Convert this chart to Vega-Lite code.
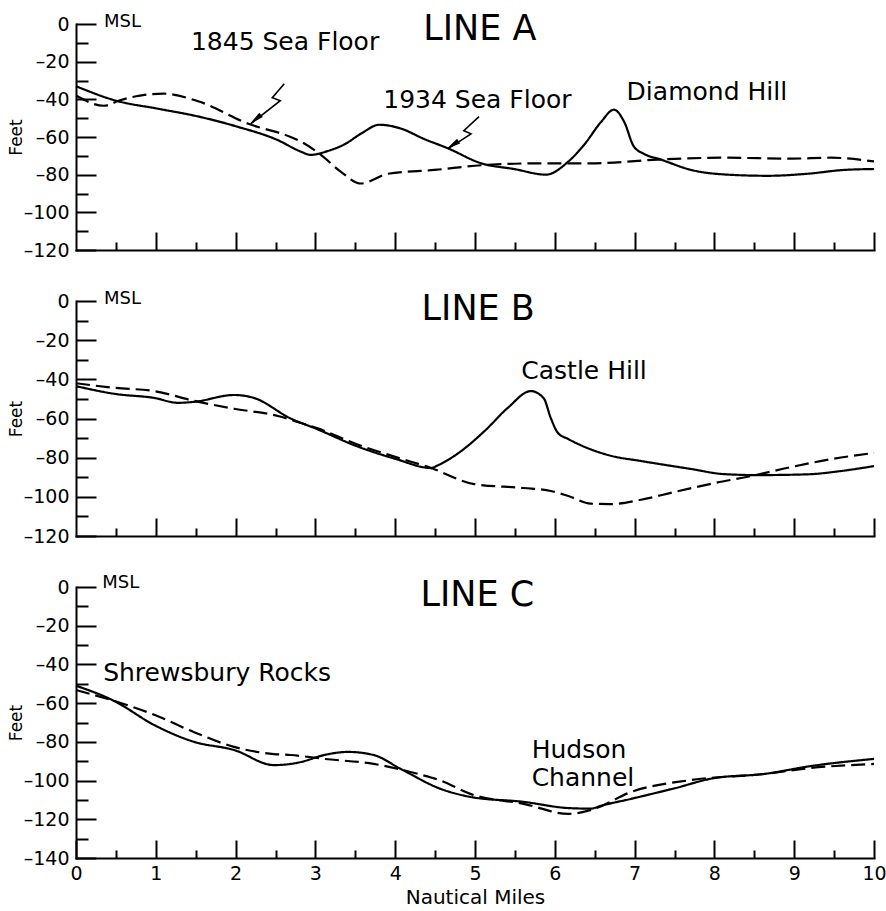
{
 "$schema": "https://vega.github.io/schema/vega-lite/v6.json",
 "background": "white",
 "padding": {"left": 7, "top": 12, "right": 5, "bottom": 2},
 "bounds": "flush",
 "spacing": 51,
 "config": {
  "font": "DejaVu Sans",
  "view": {"stroke": null},
  "axis": {"grid": false, "domainColor": "black", "domainWidth": 2, "domainCap": "square", "tickColor": "black", "tickWidth": 2, "labelColor": "black", "titleColor": "black", "labelFont": "DejaVu Sans", "labelFontSize": 19, "titleFont": "DejaVu Sans", "titleFontWeight": "normal", "labelFlush": false, "labelOverlap": false},
  "text": {"font": "DejaVu Sans", "color": "black"}
 },
 "datasets": {
  "prof": [
   {"panel":"A","survey":"1934","mi":0,"ft":-33},
   {"panel":"A","survey":"1934","mi":0.5,"ft":-40.7},
   {"panel":"A","survey":"1934","mi":1.03,"ft":-45},
   {"panel":"A","survey":"1934","mi":1.52,"ft":-49},
   {"panel":"A","survey":"1934","mi":2.02,"ft":-54.5},
   {"panel":"A","survey":"1934","mi":2.52,"ft":-61.5},
   {"panel":"A","survey":"1934","mi":2.82,"ft":-67.8},
   {"panel":"A","survey":"1934","mi":2.94,"ft":-69.5},
   {"panel":"A","survey":"1934","mi":3.15,"ft":-67.5},
   {"panel":"A","survey":"1934","mi":3.36,"ft":-64},
   {"panel":"A","survey":"1934","mi":3.58,"ft":-58},
   {"panel":"A","survey":"1934","mi":3.8,"ft":-53.5},
   {"panel":"A","survey":"1934","mi":4.07,"ft":-55.5},
   {"panel":"A","survey":"1934","mi":4.36,"ft":-61},
   {"panel":"A","survey":"1934","mi":4.66,"ft":-66},
   {"panel":"A","survey":"1934","mi":5.08,"ft":-74},
   {"panel":"A","survey":"1934","mi":5.49,"ft":-77},
   {"panel":"A","survey":"1934","mi":5.89,"ft":-80},
   {"panel":"A","survey":"1934","mi":6.17,"ft":-73},
   {"panel":"A","survey":"1934","mi":6.37,"ft":-64},
   {"panel":"A","survey":"1934","mi":6.58,"ft":-52},
   {"panel":"A","survey":"1934","mi":6.74,"ft":-45.5},
   {"panel":"A","survey":"1934","mi":6.87,"ft":-52},
   {"panel":"A","survey":"1934","mi":6.99,"ft":-65},
   {"panel":"A","survey":"1934","mi":7.12,"ft":-69},
   {"panel":"A","survey":"1934","mi":7.33,"ft":-72},
   {"panel":"A","survey":"1934","mi":7.71,"ft":-77.5},
   {"panel":"A","survey":"1934","mi":8.17,"ft":-80},
   {"panel":"A","survey":"1934","mi":8.67,"ft":-80.6},
   {"panel":"A","survey":"1934","mi":9.17,"ft":-79.5},
   {"panel":"A","survey":"1934","mi":9.62,"ft":-77.5},
   {"panel":"A","survey":"1934","mi":10,"ft":-77},
   {"panel":"A","survey":"1845","mi":0,"ft":-38},
   {"panel":"A","survey":"1845","mi":0.35,"ft":-43.4},
   {"panel":"A","survey":"1845","mi":0.55,"ft":-40.5},
   {"panel":"A","survey":"1845","mi":0.8,"ft":-38},
   {"panel":"A","survey":"1845","mi":1.1,"ft":-37},
   {"panel":"A","survey":"1845","mi":1.53,"ft":-41},
   {"panel":"A","survey":"1845","mi":2.16,"ft":-53},
   {"panel":"A","survey":"1845","mi":2.69,"ft":-60},
   {"panel":"A","survey":"1845","mi":2.82,"ft":-62.5},
   {"panel":"A","survey":"1845","mi":3.07,"ft":-69.5},
   {"panel":"A","survey":"1845","mi":3.32,"ft":-78.5},
   {"panel":"A","survey":"1845","mi":3.57,"ft":-84.7},
   {"panel":"A","survey":"1845","mi":3.91,"ft":-79.5},
   {"panel":"A","survey":"1845","mi":4.49,"ft":-77.5},
   {"panel":"A","survey":"1845","mi":5.08,"ft":-75},
   {"panel":"A","survey":"1845","mi":5.74,"ft":-74},
   {"panel":"A","survey":"1845","mi":6.45,"ft":-74},
   {"panel":"A","survey":"1845","mi":7.29,"ft":-72},
   {"panel":"A","survey":"1845","mi":8.12,"ft":-71},
   {"panel":"A","survey":"1845","mi":8.96,"ft":-71.5},
   {"panel":"A","survey":"1845","mi":9.46,"ft":-71},
   {"panel":"A","survey":"1845","mi":10,"ft":-73},
   {"panel":"B","survey":"1934","mi":0,"ft":-43.5},
   {"panel":"B","survey":"1934","mi":0.5,"ft":-47.5},
   {"panel":"B","survey":"1934","mi":0.98,"ft":-49.5},
   {"panel":"B","survey":"1934","mi":1.28,"ft":-52},
   {"panel":"B","survey":"1934","mi":1.48,"ft":-51.5},
   {"panel":"B","survey":"1934","mi":1.98,"ft":-48},
   {"panel":"B","survey":"1934","mi":2.23,"ft":-49.5},
   {"panel":"B","survey":"1934","mi":2.69,"ft":-60},
   {"panel":"B","survey":"1934","mi":3.02,"ft":-65.4},
   {"panel":"B","survey":"1934","mi":3.51,"ft":-74},
   {"panel":"B","survey":"1934","mi":4.01,"ft":-80.7},
   {"panel":"B","survey":"1934","mi":4.45,"ft":-85.3},
   {"panel":"B","survey":"1934","mi":4.53,"ft":-84},
   {"panel":"B","survey":"1934","mi":4.78,"ft":-78},
   {"panel":"B","survey":"1934","mi":5.12,"ft":-66.4},
   {"panel":"B","survey":"1934","mi":5.41,"ft":-54.6},
   {"panel":"B","survey":"1934","mi":5.7,"ft":-46},
   {"panel":"B","survey":"1934","mi":5.86,"ft":-49.6},
   {"panel":"B","survey":"1934","mi":5.95,"ft":-59.8},
   {"panel":"B","survey":"1934","mi":6.04,"ft":-67.4},
   {"panel":"B","survey":"1934","mi":6.17,"ft":-70.5},
   {"panel":"B","survey":"1934","mi":6.7,"ft":-79},
   {"panel":"B","survey":"1934","mi":7.08,"ft":-81.7},
   {"panel":"B","survey":"1934","mi":7.71,"ft":-85.8},
   {"panel":"B","survey":"1934","mi":8.12,"ft":-88.4},
   {"panel":"B","survey":"1934","mi":8.55,"ft":-88.9},
   {"panel":"B","survey":"1934","mi":9.17,"ft":-88.5},
   {"panel":"B","survey":"1934","mi":9.59,"ft":-86.8},
   {"panel":"B","survey":"1934","mi":10,"ft":-84.3},
   {"panel":"B","survey":"1845","mi":0,"ft":-42},
   {"panel":"B","survey":"1845","mi":0.5,"ft":-44.4},
   {"panel":"B","survey":"1845","mi":0.98,"ft":-46},
   {"panel":"B","survey":"1845","mi":1.48,"ft":-51},
   {"panel":"B","survey":"1845","mi":1.98,"ft":-55},
   {"panel":"B","survey":"1845","mi":2.53,"ft":-58.7},
   {"panel":"B","survey":"1845","mi":2.82,"ft":-62.3},
   {"panel":"B","survey":"1845","mi":3.02,"ft":-64.9},
   {"panel":"B","survey":"1845","mi":3.51,"ft":-73},
   {"panel":"B","survey":"1845","mi":4.01,"ft":-79.7},
   {"panel":"B","survey":"1845","mi":4.45,"ft":-85.3},
   {"panel":"B","survey":"1845","mi":4.99,"ft":-93.5},
   {"panel":"B","survey":"1845","mi":5.61,"ft":-95.5},
   {"panel":"B","survey":"1845","mi":5.95,"ft":-97},
   {"panel":"B","survey":"1845","mi":6.17,"ft":-99.6},
   {"panel":"B","survey":"1845","mi":6.45,"ft":-103.5},
   {"panel":"B","survey":"1845","mi":6.7,"ft":-103.7},
   {"panel":"B","survey":"1845","mi":7.08,"ft":-101.5},
   {"panel":"B","survey":"1845","mi":7.5,"ft":-97.5},
   {"panel":"B","survey":"1845","mi":8.0,"ft":-93},
   {"panel":"B","survey":"1845","mi":8.46,"ft":-89.4},
   {"panel":"B","survey":"1845","mi":8.96,"ft":-84.8},
   {"panel":"B","survey":"1845","mi":9.46,"ft":-80.8},
   {"panel":"B","survey":"1845","mi":10,"ft":-77.6},
   {"panel":"C","survey":"1934","mi":0,"ft":-51},
   {"panel":"C","survey":"1934","mi":0.48,"ft":-58.9},
   {"panel":"C","survey":"1934","mi":0.98,"ft":-71.3},
   {"panel":"C","survey":"1934","mi":1.48,"ft":-80},
   {"panel":"C","survey":"1934","mi":1.98,"ft":-84.2},
   {"panel":"C","survey":"1934","mi":2.48,"ft":-92},
   {"panel":"C","survey":"1934","mi":2.69,"ft":-91.4},
   {"panel":"C","survey":"1934","mi":2.82,"ft":-90.4},
   {"panel":"C","survey":"1934","mi":3.11,"ft":-86.8},
   {"panel":"C","survey":"1934","mi":3.41,"ft":-85.2},
   {"panel":"C","survey":"1934","mi":3.73,"ft":-86.8},
   {"panel":"C","survey":"1934","mi":4.07,"ft":-94},
   {"panel":"C","survey":"1934","mi":4.57,"ft":-104.3},
   {"panel":"C","survey":"1934","mi":4.95,"ft":-108.5},
   {"panel":"C","survey":"1934","mi":5.61,"ft":-111},
   {"panel":"C","survey":"1934","mi":6.17,"ft":-114.2},
   {"panel":"C","survey":"1934","mi":6.45,"ft":-114.5},
   {"panel":"C","survey":"1934","mi":6.58,"ft":-113},
   {"panel":"C","survey":"1934","mi":6.95,"ft":-109.5},
   {"panel":"C","survey":"1934","mi":7.5,"ft":-104},
   {"panel":"C","survey":"1934","mi":8.0,"ft":-98.7},
   {"panel":"C","survey":"1934","mi":8.62,"ft":-96.6},
   {"panel":"C","survey":"1934","mi":9.21,"ft":-92.5},
   {"panel":"C","survey":"1934","mi":10,"ft":-88.8},
   {"panel":"C","survey":"1845","mi":0,"ft":-53.2},
   {"panel":"C","survey":"1845","mi":0.31,"ft":-56.8},
   {"panel":"C","survey":"1845","mi":0.48,"ft":-58.9},
   {"panel":"C","survey":"1845","mi":0.98,"ft":-66},
   {"panel":"C","survey":"1845","mi":1.48,"ft":-75},
   {"panel":"C","survey":"1845","mi":1.98,"ft":-82.6},
   {"panel":"C","survey":"1845","mi":2.48,"ft":-86.3},
   {"panel":"C","survey":"1845","mi":2.69,"ft":-86.8},
   {"panel":"C","survey":"1845","mi":3.11,"ft":-88.8},
   {"panel":"C","survey":"1845","mi":3.73,"ft":-91.4},
   {"panel":"C","survey":"1845","mi":4.29,"ft":-96.6},
   {"panel":"C","survey":"1845","mi":4.57,"ft":-100},
   {"panel":"C","survey":"1845","mi":4.95,"ft":-107},
   {"panel":"C","survey":"1845","mi":5.61,"ft":-112},
   {"panel":"C","survey":"1845","mi":6.17,"ft":-117.2},
   {"panel":"C","survey":"1845","mi":6.49,"ft":-114.7},
   {"panel":"C","survey":"1845","mi":6.95,"ft":-106},
   {"panel":"C","survey":"1845","mi":7.71,"ft":-99.7},
   {"panel":"C","survey":"1845","mi":8.62,"ft":-96.6},
   {"panel":"C","survey":"1845","mi":9.21,"ft":-93.5},
   {"panel":"C","survey":"1845","mi":10,"ft":-91.4}
  ],
  "notes": [
   {"panel":"A","kind":"title","mi":5.06,"ft":-2.9,"label":"LINE A"},
   {"panel":"B","kind":"title","mi":5.04,"ft":-4.1,"label":"LINE B"},
   {"panel":"C","kind":"title","mi":5.03,"ft":-4.1,"label":"LINE C"},
   {"panel":"A","kind":"msl","mi":0.35,"ft":1,"label":"MSL"},
   {"panel":"B","kind":"msl","mi":0.35,"ft":1,"label":"MSL"},
   {"panel":"C","kind":"msl","mi":0.33,"ft":2,"label":"MSL"},
   {"panel":"A","kind":"note","mi":1.44,"ft":-9.3,"label":"1845 Sea Floor"},
   {"panel":"A","kind":"note","mi":3.85,"ft":-40.2,"label":"1934 Sea Floor"},
   {"panel":"A","kind":"note","mi":6.9,"ft":-35.9,"label":"Diamond Hill"},
   {"panel":"B","kind":"note","mi":5.58,"ft":-35.8,"label":"Castle Hill"},
   {"panel":"C","kind":"note","mi":0.34,"ft":-44.4,"label":"Shrewsbury Rocks"},
   {"panel":"C","kind":"note","mi":5.71,"ft":-84,"label":"Hudson"},
   {"panel":"C","kind":"note","mi":5.71,"ft":-98.6,"label":"Channel"}
  ],
  "arrows": [
   {"arrow":"1845","ord":1,"mi":2.61,"ft":-31.7},
   {"arrow":"1845","ord":2,"mi":2.46,"ft":-39.1},
   {"arrow":"1845","ord":3,"mi":2.56,"ft":-40.7},
   {"arrow":"1845","ord":4,"mi":2.19,"ft":-53},
   {"arrow":"1934","ord":1,"mi":5.05,"ft":-49.2},
   {"arrow":"1934","ord":2,"mi":4.86,"ft":-56.7},
   {"arrow":"1934","ord":3,"mi":4.95,"ft":-58.3},
   {"arrow":"1934","ord":4,"mi":4.66,"ft":-66.3}
  ],
  "heads": [
   {"arrow":"1845","mi":2.25,"ft":-50.6},
   {"arrow":"1934","mi":4.72,"ft":-64.2}
  ]
 },
 "vconcat": [
  {
   "width": 798, "height": 226,
   "layer": [
    {
     "data": {"name": "prof"},
     "transform": [{"filter": "datum.panel === 'A'"}],
     "mark": {"type": "line", "interpolate": "monotone", "color": "black", "strokeWidth": 2.2},
     "encoding": {
      "x": {"field": "mi", "type": "quantitative", "scale": {"domain": [0, 10], "nice": false}, "axis": {"orient": "bottom", "values": [1,2,3,4,5,6,7,8,9,10], "tickSize": -18, "labels": false, "title": null}},
      "y": {"field": "ft", "type": "quantitative", "scale": {"domain": [-120, 0], "nice": false}, "axis": {"orient": "left", "values": [0,-20,-40,-60,-80,-100,-120], "tickSize": -20, "labelPadding": 27, "title": "Feet", "titleFontSize": 17, "titlePadding": -2, "labelExpr": "datum.value < 0 ? '–' + abs(datum.value) : datum.label"}},
      "strokeDash": {"field": "survey", "type": "nominal", "scale": {"domain": ["1934", "1845"], "range": [[1, 0], [14, 6]]}, "legend": null}
     }
    },
    {
     "data": {"name": "notes"},
     "transform": [{"filter": "datum.panel === 'A' && datum.kind === 'note'"}],
     "mark": {"type": "text", "align": "left", "baseline": "middle", "fontSize": 25},
     "encoding": {
      "x": {"field": "mi", "type": "quantitative", "scale": {"domain": [0, 10], "nice": false}, "axis": {"orient": "bottom", "values": [0.5,1.5,2.5,3.5,4.5,5.5,6.5,7.5,8.5,9.5], "tickSize": -8, "labels": false, "domain": false, "title": null}},
      "y": {"field": "ft", "type": "quantitative", "scale": {"domain": [-120, 0], "nice": false}, "axis": {"orient": "left", "values": [-10,-30,-50,-70,-90,-110], "tickSize": -12, "labels": false, "domain": false, "title": null}},
      "text": {"field": "label"}
     }
    },
    {
     "data": {"name": "notes"},
     "transform": [{"filter": "datum.panel === 'A' && datum.kind === 'title'"}],
     "mark": {"type": "text", "align": "center", "baseline": "middle", "fontSize": 35},
     "encoding": {
      "x": {"field": "mi", "type": "quantitative", "scale": {"domain": [0, 10], "nice": false}, "axis": null},
      "y": {"field": "ft", "type": "quantitative", "scale": {"domain": [-120, 0], "nice": false}, "axis": null},
      "text": {"field": "label"}
     }
    },
    {
     "data": {"name": "notes"},
     "transform": [{"filter": "datum.panel === 'A' && datum.kind === 'msl'"}],
     "mark": {"type": "text", "align": "left", "baseline": "middle", "fontSize": 18},
     "encoding": {
      "x": {"field": "mi", "type": "quantitative", "scale": {"domain": [0, 10], "nice": false}, "axis": null},
      "y": {"field": "ft", "type": "quantitative", "scale": {"domain": [-120, 0], "nice": false}, "axis": null},
      "text": {"field": "label"}
     }
    },
    {
     "data": {"name": "arrows"},
     "mark": {"type": "line", "color": "black", "strokeWidth": 1.6},
     "encoding": {
      "x": {"field": "mi", "type": "quantitative", "scale": {"domain": [0, 10], "nice": false}, "axis": null},
      "y": {"field": "ft", "type": "quantitative", "scale": {"domain": [-120, 0], "nice": false}, "axis": null},
      "detail": {"field": "arrow"},
      "order": {"field": "ord"}
     }
    },
    {
     "data": {"name": "heads"},
     "transform": [{"filter": "datum.arrow === '1845'"}],
     "mark": {"type": "point", "shape": "M0,-1L0.4,1L-0.4,1Z", "filled": true, "color": "black", "opacity": 1, "size": 200, "angle": 231.5},
     "encoding": {
      "x": {"field": "mi", "type": "quantitative", "scale": {"domain": [0, 10], "nice": false}, "axis": null},
      "y": {"field": "ft", "type": "quantitative", "scale": {"domain": [-120, 0], "nice": false}, "axis": null}
     }
    },
    {
     "data": {"name": "heads"},
     "transform": [{"filter": "datum.arrow === '1934'"}],
     "mark": {"type": "point", "shape": "M0,-1L0.4,1L-0.4,1Z", "filled": true, "color": "black", "opacity": 1, "size": 200, "angle": 237},
     "encoding": {
      "x": {"field": "mi", "type": "quantitative", "scale": {"domain": [0, 10], "nice": false}, "axis": null},
      "y": {"field": "ft", "type": "quantitative", "scale": {"domain": [-120, 0], "nice": false}, "axis": null}
     }
    }
   ],
   "resolve": {"axis": {"x": "independent", "y": "independent"}}
  },
  {
   "width": 798, "height": 235,
   "layer": [
    {
     "data": {"name": "prof"},
     "transform": [{"filter": "datum.panel === 'B'"}],
     "mark": {"type": "line", "interpolate": "monotone", "color": "black", "strokeWidth": 2.2},
     "encoding": {
      "x": {"field": "mi", "type": "quantitative", "scale": {"domain": [0, 10], "nice": false}, "axis": {"orient": "bottom", "values": [1,2,3,4,5,6,7,8,9,10], "tickSize": -18, "labels": false, "title": null}},
      "y": {"field": "ft", "type": "quantitative", "scale": {"domain": [-120, 0], "nice": false}, "axis": {"orient": "left", "values": [0,-20,-40,-60,-80,-100,-120], "tickSize": -20, "labelPadding": 27, "title": "Feet", "titleFontSize": 17, "titlePadding": -2, "labelExpr": "datum.value < 0 ? '–' + abs(datum.value) : datum.label"}},
      "strokeDash": {"field": "survey", "type": "nominal", "scale": {"domain": ["1934", "1845"], "range": [[1, 0], [14, 6]]}, "legend": null}
     }
    },
    {
     "data": {"name": "notes"},
     "transform": [{"filter": "datum.panel === 'B' && datum.kind === 'note'"}],
     "mark": {"type": "text", "align": "left", "baseline": "middle", "fontSize": 25},
     "encoding": {
      "x": {"field": "mi", "type": "quantitative", "scale": {"domain": [0, 10], "nice": false}, "axis": {"orient": "bottom", "values": [0.5,1.5,2.5,3.5,4.5,5.5,6.5,7.5,8.5,9.5], "tickSize": -8, "labels": false, "domain": false, "title": null}},
      "y": {"field": "ft", "type": "quantitative", "scale": {"domain": [-120, 0], "nice": false}, "axis": {"orient": "left", "values": [-10,-30,-50,-70,-90,-110], "tickSize": -12, "labels": false, "domain": false, "title": null}},
      "text": {"field": "label"}
     }
    },
    {
     "data": {"name": "notes"},
     "transform": [{"filter": "datum.panel === 'B' && datum.kind === 'title'"}],
     "mark": {"type": "text", "align": "center", "baseline": "middle", "fontSize": 35},
     "encoding": {
      "x": {"field": "mi", "type": "quantitative", "scale": {"domain": [0, 10], "nice": false}, "axis": null},
      "y": {"field": "ft", "type": "quantitative", "scale": {"domain": [-120, 0], "nice": false}, "axis": null},
      "text": {"field": "label"}
     }
    },
    {
     "data": {"name": "notes"},
     "transform": [{"filter": "datum.panel === 'B' && datum.kind === 'msl'"}],
     "mark": {"type": "text", "align": "left", "baseline": "middle", "fontSize": 18},
     "encoding": {
      "x": {"field": "mi", "type": "quantitative", "scale": {"domain": [0, 10], "nice": false}, "axis": null},
      "y": {"field": "ft", "type": "quantitative", "scale": {"domain": [-120, 0], "nice": false}, "axis": null},
      "text": {"field": "label"}
     }
    }
   ],
   "resolve": {"axis": {"x": "independent", "y": "independent"}}
  },
  {
   "width": 798, "height": 271,
   "layer": [
    {
     "data": {"name": "prof"},
     "transform": [{"filter": "datum.panel === 'C'"}],
     "mark": {"type": "line", "interpolate": "monotone", "color": "black", "strokeWidth": 2.2},
     "encoding": {
      "x": {"field": "mi", "type": "quantitative", "scale": {"domain": [0, 10], "nice": false}, "axis": {"orient": "bottom", "values": [0,1,2,3,4,5,6,7,8,9,10], "tickSize": -18, "labelPadding": 24, "title": "Nautical Miles", "titleFontSize": 20, "titlePadding": 4}},
      "y": {"field": "ft", "type": "quantitative", "scale": {"domain": [-140, 0], "nice": false}, "axis": {"orient": "left", "values": [0,-20,-40,-60,-80,-100,-120,-140], "tickSize": -20, "labelPadding": 27, "title": "Feet", "titleFontSize": 17, "titlePadding": -2, "labelExpr": "datum.value < 0 ? '–' + abs(datum.value) : datum.label"}},
      "strokeDash": {"field": "survey", "type": "nominal", "scale": {"domain": ["1934", "1845"], "range": [[1, 0], [14, 6]]}, "legend": null}
     }
    },
    {
     "data": {"name": "notes"},
     "transform": [{"filter": "datum.panel === 'C' && datum.kind === 'note'"}],
     "mark": {"type": "text", "align": "left", "baseline": "middle", "fontSize": 25},
     "encoding": {
      "x": {"field": "mi", "type": "quantitative", "scale": {"domain": [0, 10], "nice": false}, "axis": {"orient": "bottom", "values": [0.5,1.5,2.5,3.5,4.5,5.5,6.5,7.5,8.5,9.5], "tickSize": -8, "labels": false, "domain": false, "title": null}},
      "y": {"field": "ft", "type": "quantitative", "scale": {"domain": [-140, 0], "nice": false}, "axis": {"orient": "left", "values": [-10,-30,-50,-70,-90,-110,-130], "tickSize": -12, "labels": false, "domain": false, "title": null}},
      "text": {"field": "label"}
     }
    },
    {
     "data": {"name": "notes"},
     "transform": [{"filter": "datum.panel === 'C' && datum.kind === 'title'"}],
     "mark": {"type": "text", "align": "center", "baseline": "middle", "fontSize": 35},
     "encoding": {
      "x": {"field": "mi", "type": "quantitative", "scale": {"domain": [0, 10], "nice": false}, "axis": null},
      "y": {"field": "ft", "type": "quantitative", "scale": {"domain": [-140, 0], "nice": false}, "axis": null},
      "text": {"field": "label"}
     }
    },
    {
     "data": {"name": "notes"},
     "transform": [{"filter": "datum.panel === 'C' && datum.kind === 'msl'"}],
     "mark": {"type": "text", "align": "left", "baseline": "middle", "fontSize": 18},
     "encoding": {
      "x": {"field": "mi", "type": "quantitative", "scale": {"domain": [0, 10], "nice": false}, "axis": null},
      "y": {"field": "ft", "type": "quantitative", "scale": {"domain": [-140, 0], "nice": false}, "axis": null},
      "text": {"field": "label"}
     }
    }
   ],
   "resolve": {"axis": {"x": "independent", "y": "independent"}}
  }
 ]
}
